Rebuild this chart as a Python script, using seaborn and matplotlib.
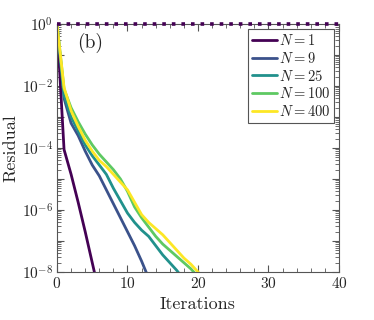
import numpy as np
import pandas as pd
import matplotlib
matplotlib.use("Agg")
import matplotlib.pyplot as plt
import matplotlib.ticker as mticker
import seaborn as sns

# log10 of residual per iteration
n_values = [1, 9, 25, 100, 400]
log_res_n1 = [0, -4.05, -4.85, -5.75, -6.7, -7.7, -8.7]
log_res_n9 = [0, -2.4, -3.2, -3.6, -4.1, -4.55, -4.9, -5.35, -5.8, -6.25,
              -6.7, -7.15, -7.65, -8.2]
log_res_n25 = [0, -2.3, -3.0, -3.45, -3.9, -4.25, -4.55, -4.85, -5.3, -5.7,
               -6.1, -6.4, -6.65, -6.85, -7.15, -7.45, -7.7, -7.95, -8.25]
log_res_n100 = [0, -2.1, -2.7, -3.15, -3.55, -3.9, -4.2, -4.45, -4.7, -5.0,
                -5.4, -5.9, -6.25, -6.55, -6.85, -7.1, -7.3, -7.5, -7.7,
                -7.9, -8.15]
log_res_n400 = [0, -2.05, -2.8, -3.3, -3.75, -4.1, -4.4, -4.6, -4.85, -5.1,
                -5.35, -5.75, -6.15, -6.4, -6.6, -6.8, -7.05, -7.3, -7.55,
                -7.75, -8.0, -8.25]
# flat reference line at residual 1
ref_iters = [0, 40]
ref_resid = [1.0, 1.0]

series = [log_res_n1, log_res_n9, log_res_n25, log_res_n100, log_res_n400]
labels = [f"$N = {n}$" for n in n_values]
rows = []
for lab, vals in zip(labels, series):
    for it, v in enumerate(vals):
        rows.append({"Iterations": it, "Residual": 10.0 ** v, "N": lab})
df = pd.DataFrame(rows)

sns.set_style("ticks")
plt.rcParams["font.family"] = "serif"
plt.rcParams["font.serif"] = ["cmr10", "DejaVu Serif"]
plt.rcParams["mathtext.fontset"] = "cm"
plt.rcParams["axes.formatter.use_mathtext"] = True

colors = [tuple(c) for c in plt.cm.viridis(np.linspace(0, 1, len(n_values)))]
palette = dict(zip(labels, colors))

fig = plt.figure(figsize=(3.74, 3.2), dpi=100)
ax = fig.add_axes([0.1524, 0.15, 0.754, 0.775])

ax.plot(ref_iters, ref_resid, linestyle=":", color=colors[0], linewidth=2.6,
        clip_on=False, zorder=3)
sns.lineplot(data=df, x="Iterations", y="Residual", hue="N", hue_order=labels,
             palette=palette, linewidth=2, ax=ax)

ax.set_yscale("log")
ax.set_xlim(0, 40)
ax.set_ylim(1e-8, 1)
ax.yaxis.set_major_locator(mticker.LogLocator(base=10, numticks=20))
ax.yaxis.set_major_formatter(mticker.FuncFormatter(
    lambda v, p: f"$10^{{{int(round(np.log10(v)))}}}$" if int(round(np.log10(v))) % 2 == 0 else ""))
ax.yaxis.set_minor_locator(mticker.LogLocator(base=10, subs=np.arange(2, 10), numticks=20))
ax.yaxis.set_minor_formatter(mticker.NullFormatter())
ax.xaxis.set_major_locator(mticker.MultipleLocator(10))
ax.xaxis.set_minor_locator(mticker.MultipleLocator(2))

ax.tick_params(which="both", direction="in", top=True, right=True,
               labelsize=11, color="#555555", pad=3)
ax.tick_params(which="major", length=5)
ax.tick_params(which="minor", length=3)
for s in ax.spines.values():
    s.set_color("#555555")
    s.set_linewidth(0.8)

ax.set_xlabel("Iterations", fontsize=13, labelpad=4)
ax.set_ylabel("Residual", fontsize=13, labelpad=2)
ax.text(0.07, 0.925, "(b)", transform=ax.transAxes, fontsize=14, va="center")

leg = ax.legend(loc="upper right", fontsize=10.5, frameon=True, fancybox=False,
                edgecolor="#555555", framealpha=1, handlelength=1.7,
                handletextpad=0.15, labelspacing=0.2, borderpad=0.25,
                borderaxespad=0.35, title=None)
leg.get_frame().set_linewidth(0.8)

fig.savefig("out.png", dpi=100)
